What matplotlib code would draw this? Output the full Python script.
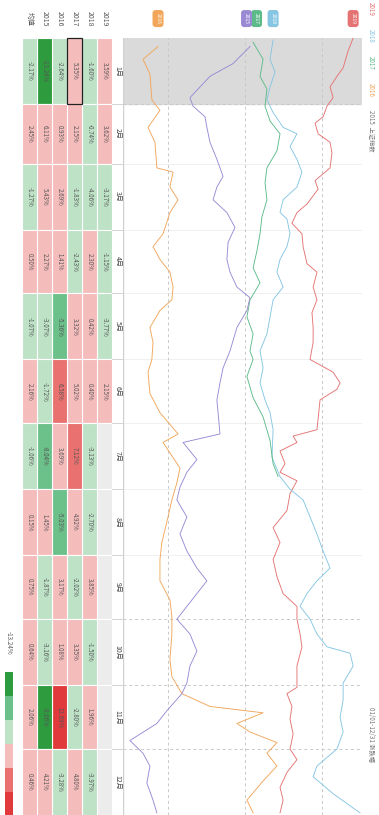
import matplotlib.pyplot as plt
import matplotlib.patches as mpatches
import numpy as np

plt.rcParams['font.family'] = ['Noto Sans CJK SC', 'DejaVu Sans']

months = ['1月', '2月', '3月', '4月', '5月', '6月', '7月', '8月', '9月', '10月', '11月', '12月']
month_days = [31, 28, 31, 30, 31, 30, 31, 31, 30, 31, 30, 31]
row_labels = ['2019', '2018', '2017', '2016', '2015', '均值']

nan = float('nan')
chg_2019 = [3.59, 3.62, -3.17, -1.15, -3.77, 2.15, nan, nan, nan, nan, nan, nan]
chg_2018 = [-1.60, -0.74, -4.06, 2.30, 0.42, 0.40, -3.13, -2.70, 3.85, -1.50, 1.96, -3.97]
chg_2017 = [5.35, 2.15, -1.83, -2.43, 3.32, 5.02, 7.12, 4.92, -2.02, 3.35, -2.80, 4.80]
chg_2016 = [-2.64, 0.93, 2.69, 1.41, -5.36, 6.58, 3.69, -5.03, 3.17, 1.08, 13.69, -3.28]
chg_2015 = [-13.24, 6.11, 5.43, 2.27, -3.07, -1.72, -8.04, 1.45, -1.87, -3.16, -9.86, 4.21]
chg_avg = [-2.17, 2.45, -1.27, 0.50, -1.07, 2.16, -1.06, 0.15, 0.75, 0.64, 2.06, 0.46]

# index lines: day of year, level
days_2019 = [0, 6, 14, 18, 23, 28, 32, 37, 40, 45, 49, 54, 61, 67, 71, 78, 82, 87, 92, 98, 106, 110,
             117, 123, 129, 136, 143, 151, 157, 162, 165, 170, 184, 187, 190, 194, 200, 204, 208, 214,
             222, 230, 237, 245, 253, 261, 267, 273, 280, 286, 295, 305, 308, 314, 320, 327, 334, 339,
             345, 352, 358, 364]
lvl_2019 = [3081, 3068, 3055, 3039, 3021, 3029, 3013, 3003, 2982, 2990, 3021, 3026, 3021, 2982, 2990,
            2961, 2935, 2922, 2948, 2951, 2961, 2987, 2977, 2987, 2974, 2977, 2977, 2969, 3029, 3047,
            3039, 2995, 2987, 2925, 2935, 2891, 2904, 2891, 2935, 2917, 2909, 2873, 2891, 2873, 2883,
            2899, 2935, 2935, 2943, 2948, 2935, 2935, 2909, 2922, 2917, 2925, 2917, 2935, 2909, 2891,
            2899, 2891]

days_2018 = [1, 10, 16, 23, 29, 35, 42, 45, 51, 57, 63, 70, 76, 82, 85, 92, 98, 104, 110, 117, 123,
             131, 139, 147, 155, 162, 170, 176, 184, 197, 206, 212, 217, 225, 233, 241, 249, 255, 261,
             267, 273, 280, 286, 289, 295, 303, 311, 319, 326, 334, 342, 347, 355, 364]
lvl_2018 = [2873, 2865, 2878, 2865, 2857, 2873, 2899, 2935, 2917, 2935, 2948, 2935, 2899, 2891, 2909,
            2917, 2909, 2891, 2883, 2899, 2873, 2865, 2857, 2839, 2847, 2839, 2852, 2865, 2873, 2870,
            2891, 2917, 2951, 2969, 2987, 3003, 3021, 2987, 2961, 2943, 2969, 2987, 3013, 3073, 3081,
            3055, 3055, 3047, 3055, 3039, 2987, 2977, 3029, 3099]

days_2017 = [2, 10, 18, 24, 32, 39, 45, 53, 61, 68, 76, 84, 92, 100, 108, 115, 123, 131, 139, 147,
             151, 159, 169, 178, 189, 200, 206]
lvl_2017 = [2821, 2847, 2839, 2857, 2852, 2865, 2891, 2883, 2857, 2852, 2857, 2844, 2839, 2831, 2821,
            2839, 2813, 2805, 2821, 2813, 2821, 2805, 2821, 2847, 2865, 2873, 2886]

days_2016 = [4, 10, 17, 29, 34, 42, 49, 61, 63, 70, 76, 82, 92, 98, 104, 110, 117, 123, 128, 136, 143,
             151, 157, 167, 176, 186, 190, 202, 209, 217, 225, 237, 245, 255, 264, 272, 280, 292, 300,
             308, 314, 317, 322, 326, 331, 336, 342, 349, 358, 364]
lvl_2016 = [2574, 2535, 2553, 2558, 2579, 2548, 2566, 2571, 2613, 2605, 2626, 2605, 2587, 2561, 2579,
            2605, 2613, 2610, 2579, 2553, 2561, 2558, 2548, 2553, 2579, 2626, 2587, 2631, 2623, 2610,
            2600, 2584, 2579, 2579, 2605, 2610, 2610, 2605, 2610, 2636, 2709, 2847, 2779, 2813, 2883,
            2857, 2883, 2847, 2805, 2821]

days_2015 = [4, 12, 18, 23, 28, 32, 37, 42, 49, 57, 65, 70, 76, 82, 89, 96, 104, 110, 117, 122, 128,
             136, 147, 155, 162, 170, 186, 190, 198, 204, 211, 217, 225, 233, 241, 249, 255, 261, 267,
             273, 280, 288, 295, 303, 308, 316, 322, 330, 336, 342, 350, 358, 364]
lvl_2015 = [2813, 2769, 2709, 2683, 2657, 2665, 2696, 2701, 2709, 2727, 2743, 2727, 2717, 2753, 2774,
            2756, 2753, 2761, 2779, 2813, 2805, 2779, 2761, 2743, 2735, 2727, 2735, 2639, 2675, 2649,
            2631, 2623, 2649, 2631, 2649, 2675, 2701, 2675, 2649, 2623, 2657, 2675, 2657, 2649, 2636,
            2597, 2571, 2501, 2535, 2553, 2545, 2561, 2571]

series = [
    ('2019', days_2019, lvl_2019, '#e57373'),
    ('2018', days_2018, lvl_2018, '#86c6e3'),
    ('2017', days_2017, lvl_2017, '#5dbb8a'),
    ('2016', days_2016, lvl_2016, '#f2a65a'),
    ('2015', days_2015, lvl_2015, '#9a8ad4'),
]
pin_shift = {'2015': -2.5, '2017': 2.5}

W, H = 379, 815
fig = plt.figure(figsize=(W / 100, H / 100), dpi=100)

month_edges = np.concatenate([[0], np.cumsum(month_days)])
top_days = 38 / 777 * 365

# ---- line chart (rotated: time runs down, level runs right)
ax = fig.add_axes([123 / W, 0, 239 / W, 777 / H])
ax.set_ylim(365, 0)
ax.set_xlim(2483, 3104)
for s in ax.spines.values():
    s.set_visible(False)
ax.set_xticks([])
ax.set_yticks([])

ax.axhspan(0, month_edges[1], color='#dadada', zorder=0)
for i, e in enumerate(month_edges[1:-1]):
    if i in (0, 8, 9, 10):
        ax.axhline(e, color='#c8c8c8', lw=0.7, ls=(0, (3, 3)), zorder=1)
    else:
        ax.axhline(e, color='#f0f0f0', lw=0.7, zorder=1)
for g in [2600, 2800, 3000, 3104]:
    ax.axvline(g, color='#c8c8c8', lw=0.7, ls=(0, (3, 3)), zorder=1)
ax.axvline(2483, color='#d0d0d0', lw=1.0, zorder=1)

for name, d, v, c in series:
    ax.plot(v, d, color=c, lw=0.65, zorder=3)
    ax.annotate(name, xy=(v[0], 0), xycoords='data', xytext=(pin_shift.get(name, 0), 14),
                textcoords='offset points', ha='center', va='center',
                rotation=-90, fontsize=3.6, color='white', annotation_clip=False,
                bbox=dict(boxstyle='round,pad=0.6', fc=c, ec='none'))

# legend and range text on the right edge
lx = 371 / W
ly = 1 - 2 / H
for name, d, v, c in series[:4]:
    fig.text(lx, ly, name, rotation=-90, rotation_mode='anchor', ha='left', va='center',
             fontsize=4.5, color=c)
    ly -= 27 / H
fig.text(lx, ly, '2015  上证指数', rotation=-90, rotation_mode='anchor', ha='left',
         va='center', fontsize=4.5, color='#777777')
fig.text(lx, 1 - 707 / H, '01/01-12/31 涨跌幅', rotation=-90, rotation_mode='anchor',
         ha='left', va='center', fontsize=4.5, color='#777777')

# ---- monthly change table
tax = fig.add_axes([0, 0, 123 / W, 1])
tax.set_xlim(0, 123)
tax.set_ylim(365, -top_days)
tax.axis('off')

table = [chg_2019, chg_2018, chg_2017, chg_2016, chg_2015, chg_avg]
colors = ['#2f9b3f', '#6cc08a', '#bde2c6', '#f5bcbc', '#e9716f', '#e03a3c']


def cell_color(v):
    if np.isnan(v):
        return '#ececec'
    if v <= -9:
        return colors[0]
    if v <= -5:
        return colors[1]
    if v < 0:
        return colors[2]
    if v < 6.3:
        return colors[3]
    if v < 10:
        return colors[4]
    return colors[5]


row_w = 15
for j, (lab, vals) in enumerate(zip(row_labels, table)):
    x0 = 112 - row_w * (j + 1)
    tax.text(x0 + row_w / 2, -top_days / 2, lab, rotation=-90, ha='center', va='center',
             fontsize=5, color='#555555')
    for i, v in enumerate(vals):
        y0 = month_edges[i]
        tax.add_patch(mpatches.Rectangle((x0, y0), row_w, month_days[i], fc=cell_color(v),
                                         ec='white', lw=0.8))
        if not np.isnan(v):
            tax.text(x0 + row_w / 2, y0 + month_days[i] / 2, '%.2f%%' % v, rotation=-90,
                     ha='center', va='center', fontsize=4.4, color='#555555')

# highlighted cell (2017, 1月)
tax.add_patch(mpatches.Rectangle((112 - row_w * 3, 0), row_w, month_days[0], fc='none',
                                 ec='#222222', lw=0.9, zorder=5))

for i, m in enumerate(months):
    tax.text(117.5, month_edges[i] + month_days[i] / 2, m, rotation=-90, ha='center',
             va='center', fontsize=5, color='#444444')
    if i > 0:
        tax.plot([112, 123], [month_edges[i], month_edges[i]], color='#cccccc', lw=0.6)

# colour scale legend
blk = 11.2
for k, c in enumerate(colors):
    tax.add_patch(mpatches.Rectangle((5, 298 + k * blk), 8, blk, fc=c, ec='none'))
tax.text(9, 284, '%.2f%%' % min(chg_2015), rotation=-90, ha='center', va='center',
         fontsize=4.5, color='#555555')

fig.savefig('out.png', dpi=100)
